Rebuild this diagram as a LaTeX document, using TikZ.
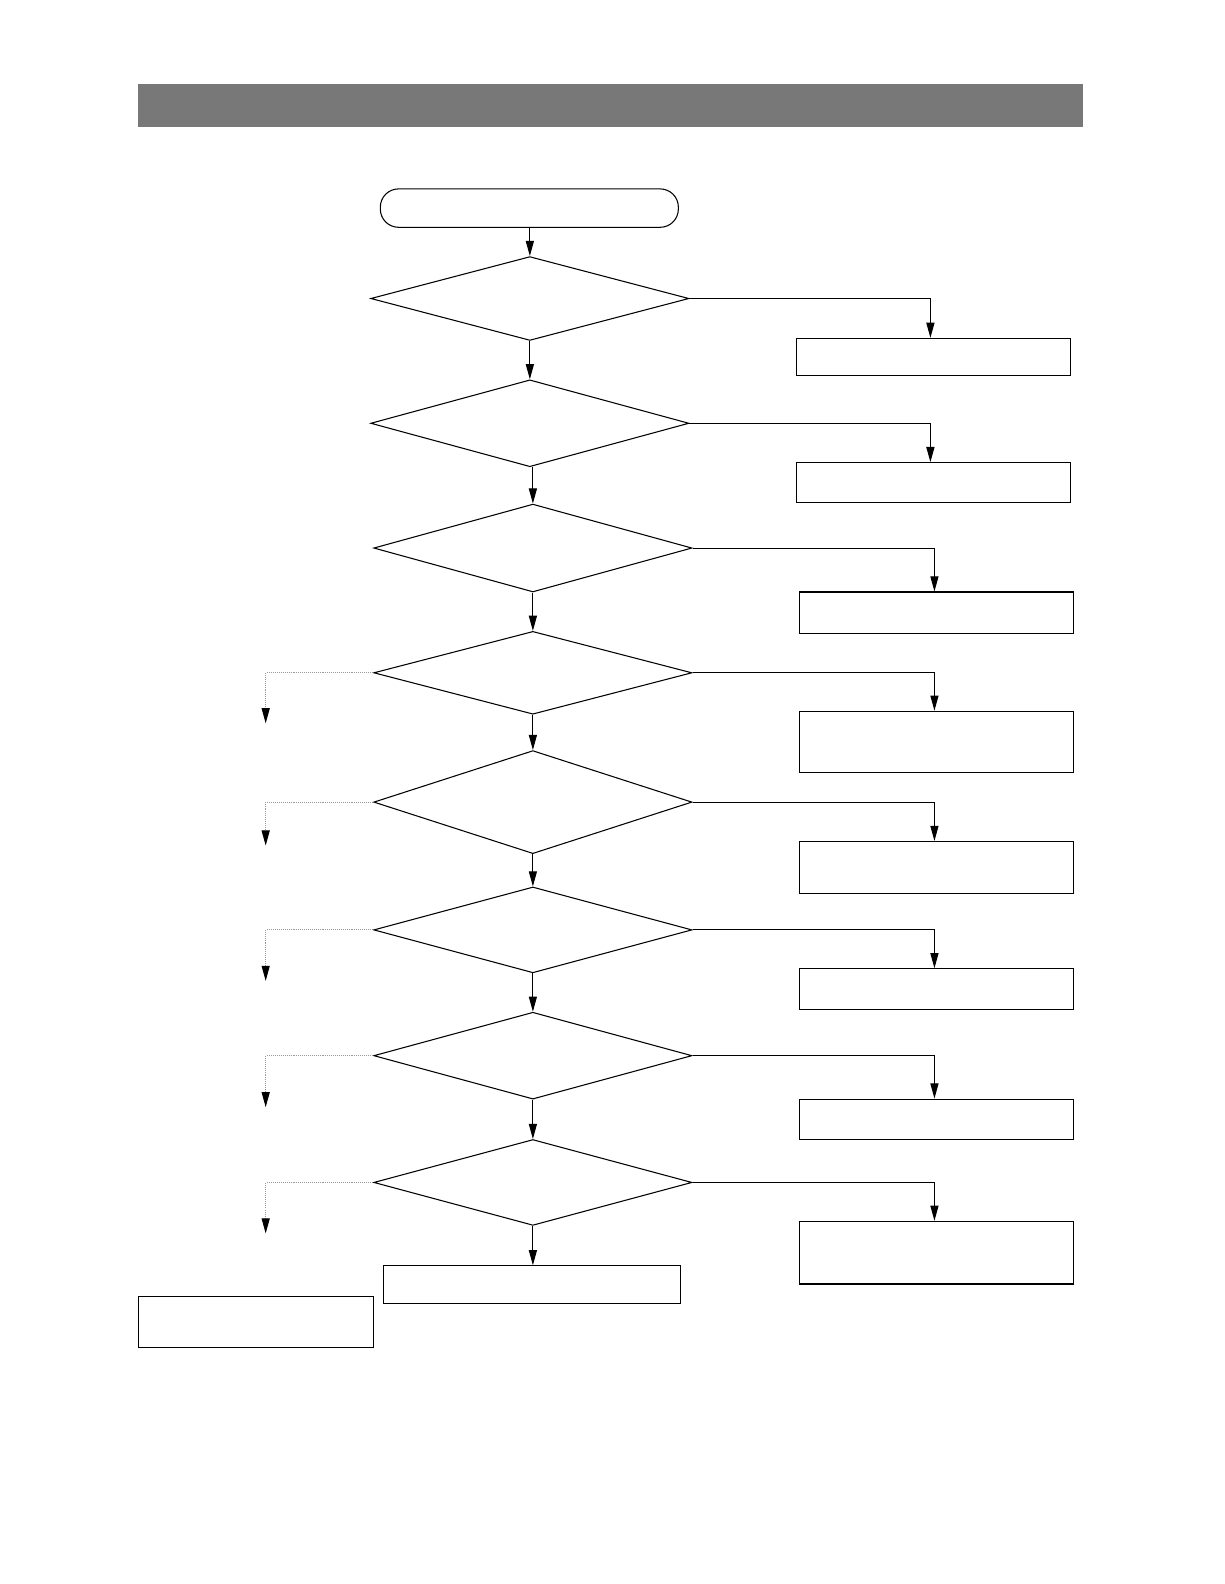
\documentclass[tikz,border=0pt]{standalone}
\usetikzlibrary{shapes.geometric,arrows.meta}
\definecolor{bargray}{HTML}{787878}
\begin{document}
\begin{tikzpicture}[x=1pt,y=-1pt,
  line width=1.05pt,
  decision/.style={draw,shape=diamond,inner sep=0pt,minimum width=315pt},
  procbox/.style={draw,rectangle,inner sep=0pt},
  arr/.style={-{Triangle[length=15pt,width=8pt]}},
  dotarr/.style={draw=gray!80,densely dotted,-{Triangle[length=15pt,width=8pt,color=black]}}]
\useasboundingbox (0,0) rectangle (1212,1568);
% title bar
\node[fill=bargray,inner sep=0pt,minimum width=935pt,minimum height=43pt] (title) at (604.5,104.5) {};
% start
\node[draw,rectangle,rounded corners=18pt,inner sep=0pt,minimum width=295pt,minimum height=38pt] (start) at (524,206) {};
% decisions
\node[decision,minimum height=83pt] (d1) at (524.5,295.5) {};
\node[decision,minimum height=86pt] (d2) at (524.5,419) {};
\node[decision,minimum height=87pt] (d3) at (527.5,542.5) {};
\node[decision,minimum height=82pt] (d4) at (527.5,666) {};
\node[decision,minimum height=102pt] (d5) at (527.5,794) {};
\node[decision,minimum height=85pt] (d6) at (527.5,920.5) {};
\node[decision,minimum height=86pt] (d7) at (527.5,1045) {};
\node[decision,minimum height=85pt] (d8) at (527.5,1170.5) {};
% right boxes
\node[procbox,minimum width=272pt,minimum height=37pt] (r1) at (924,353.5) {};
\node[procbox,minimum width=272pt,minimum height=39pt] (r2) at (924,477.5) {};
\node[procbox,minimum width=272pt,minimum height=41pt] (r3) at (927,606.5) {};
\node[procbox,minimum width=272pt,minimum height=61pt] (r4) at (927,734.5) {};
\node[procbox,minimum width=272pt,minimum height=51pt] (r5) at (927,858.5) {};
\node[procbox,minimum width=272pt,minimum height=40pt] (r6) at (927,979) {};
\node[procbox,minimum width=272pt,minimum height=40pt] (r7) at (927,1108) {};
\node[procbox,minimum width=272pt,minimum height=62pt] (r8) at (927,1240) {};
% bottom boxes
\node[procbox,minimum width=294pt,minimum height=37pt] (b) at (527,1271.5) {};
\node[procbox,minimum width=233pt,minimum height=51pt] (l) at (253.5,1308.5) {};
% left dotted ends
\coordinate (e4) at (263,716);
\coordinate (e5) at (263,837);
\coordinate (e6) at (263,971);
\coordinate (e7) at (263,1096);
\coordinate (e8) at (263,1221);
% main flow
\draw[arr] (start.south -| d1.north) -- (d1.north);
\draw[arr] (d1.south) -- (d2.north);
\draw[arr] (d3.north |- d2.south) -- (d3.north);
\draw[arr] (d3.south) -- (d4.north);
\draw[arr] (d4.south) -- (d5.north);
\draw[arr] (d5.south) -- (d6.north);
\draw[arr] (d6.south) -- (d7.north);
\draw[arr] (d7.south) -- (d8.north);
\draw[arr] (d8.south) -- (d8.south |- b.north);
% right branches
\draw[arr] (d1.east) -| ([xshift=-3pt]r1.north);
\draw[arr] (d2.east) -| ([xshift=-3pt]r2.north);
\draw[arr] (d3.east) -| ([xshift=-2pt]r3.north);
\draw[arr] (d4.east) -| ([xshift=-2pt]r4.north);
\draw[arr] (d5.east) -| ([xshift=-2pt]r5.north);
\draw[arr] (d6.east) -| ([xshift=-2pt]r6.north);
\draw[arr] (d7.east) -| ([xshift=-2pt]r7.north);
\draw[arr] (d8.east) -| ([xshift=-2pt]r8.north);
% left dotted branches
\draw[dotarr] (d4.west) -| (e4);
\draw[dotarr] (d5.west) -| (e5);
\draw[dotarr] (d6.west) -| (e6);
\draw[dotarr] (d7.west) -| (e7);
\draw[dotarr] (d8.west) -| (e8);
\end{tikzpicture}
\end{document}
